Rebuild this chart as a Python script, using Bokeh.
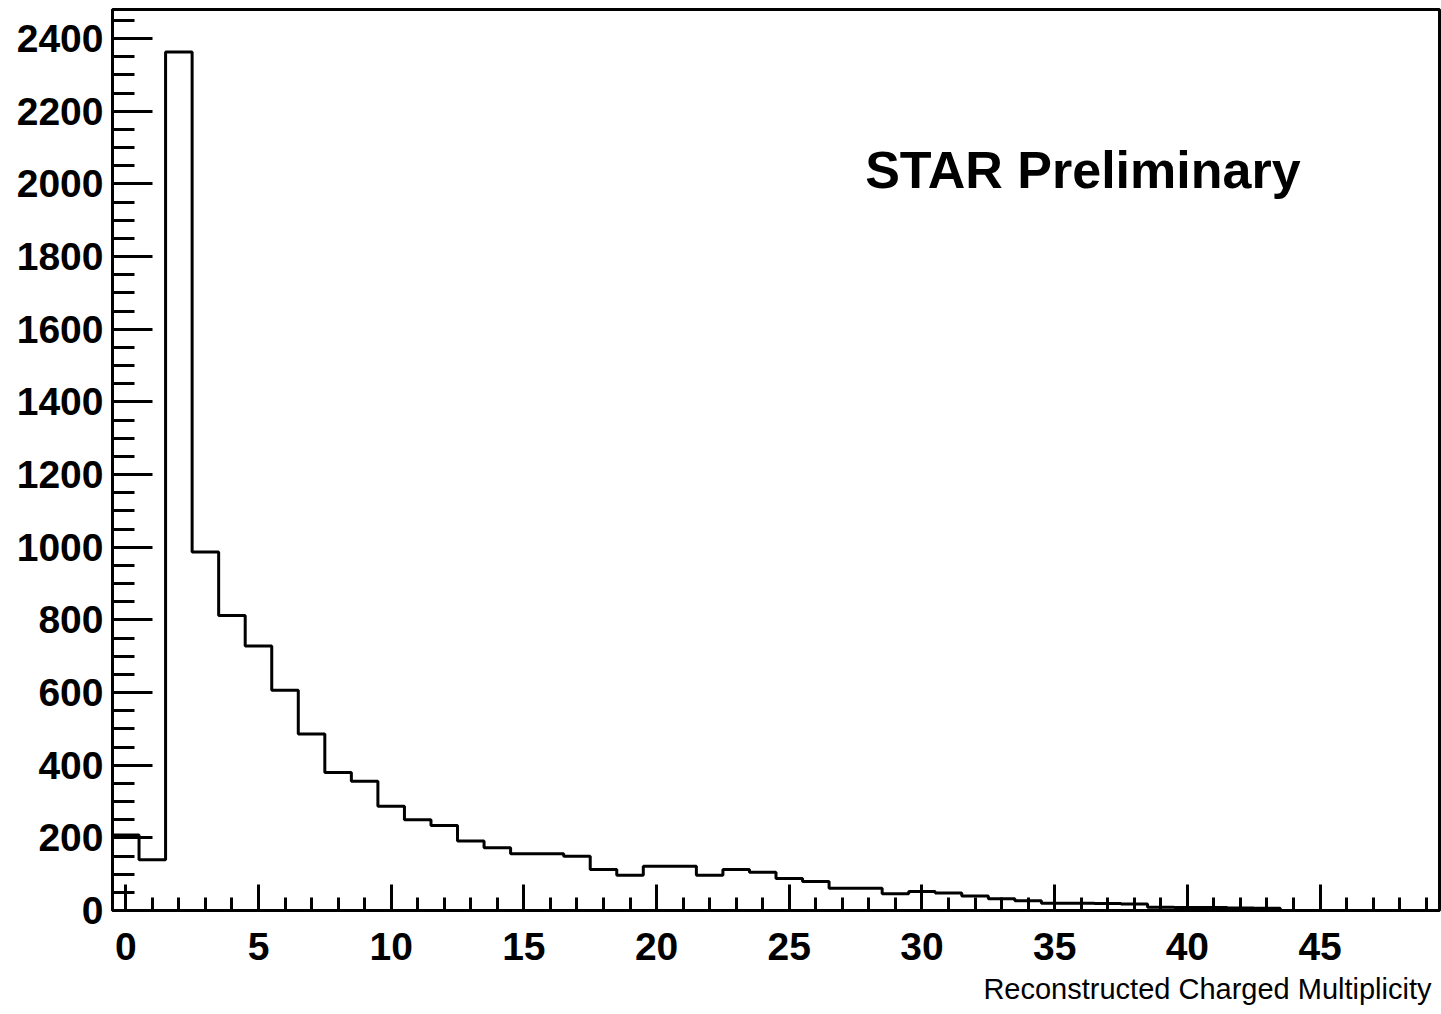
import numpy as np
from bokeh.plotting import figure
from bokeh.models import SingleIntervalTicker, Label, Range1d, Title
from bokeh.embed import file_html
from bokeh.resources import INLINE

# Histogram: Reconstructed charged multiplicity, bins of width 1 centred on integers 0..49
bin_edges = [i - 0.5 for i in range(51)]
counts = [208, 140, 2363, 987, 812, 728, 606, 486, 380, 356,
          287, 250, 234, 191, 173, 156, 156, 149, 113, 97,
          122, 122, 97, 113, 105, 88, 80, 61, 61, 46,
          52, 48, 40, 32, 27, 20, 20, 19, 18, 9,
          8, 8, 7, 6, 0, 0, 0, 0, 0, 0]
x_title = "Reconstructed Charged Multiplicity"
watermark = "STAR Preliminary"

FONT = "Liberation Sans"

p = figure(width=1441, height=1014, output_backend="svg", toolbar_location=None,
           x_range=Range1d(-0.5, 49.5), y_range=Range1d(0, 2480),
           min_border_left=112, min_border_right=2, min_border_top=9, min_border_bottom=104)
p.background_fill_color = "white"
p.border_fill_color = "white"
p.xgrid.visible = False
p.ygrid.visible = False
p.outline_line_color = "black"
p.outline_line_width = 3

xs = np.repeat(np.array(bin_edges), 2)[1:-1]
ys = np.repeat(np.array(counts, dtype=float), 2)
p.line(xs, ys, line_color="black", line_width=3)

p.xaxis.ticker = SingleIntervalTicker(interval=5, num_minor_ticks=5)
p.yaxis.ticker = SingleIntervalTicker(interval=200, num_minor_ticks=4)

for ax in (p.xaxis, p.yaxis):
    ax.axis_line_width = 3
    ax.axis_line_color = "black"
    ax.major_tick_line_width = 3
    ax.minor_tick_line_width = 3
    ax.major_tick_line_color = "black"
    ax.minor_tick_line_color = "black"
    ax.major_tick_out = 0
    ax.minor_tick_out = 0
    ax.major_label_text_font = FONT
    ax.major_label_text_font_style = "bold"
    ax.major_label_text_font_size = "39px"
    ax.major_label_text_color = "black"

p.xaxis.major_tick_in = 26
p.xaxis.minor_tick_in = 13
p.xaxis.major_label_standoff = 22
p.yaxis.major_tick_in = 40
p.yaxis.minor_tick_in = 22
p.yaxis.major_label_standoff = 9

t = Title(text=x_title, align="right", text_font=FONT, text_font_size="29px",
          text_font_style="normal", text_color="black", standoff=17, offset=8)
p.add_layout(t, "below")

p.add_layout(Label(x=27.86, y=2039, text=watermark, text_align="left", text_baseline="middle",
                   text_font=FONT, text_font_style="bold", text_font_size="52px", text_color="black"))

open("out.html", "w").write(file_html(p, INLINE))
